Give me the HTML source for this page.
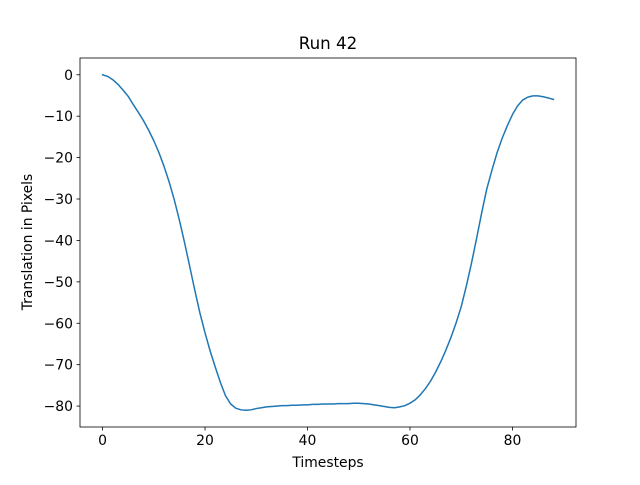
<!DOCTYPE html>
<html><head><meta charset="utf-8"><style>
body{margin:0;background:#fff;}
svg text{font-family:"DejaVu Sans","Liberation Sans",sans-serif;fill:#000;}
</style></head><body>
<svg id="chart" width="640" height="480" xmlns="http://www.w3.org/2000/svg">
<rect width="640" height="480" fill="#fff"/>
<text x="328" y="49" text-anchor="middle" font-size="16.7">Run 42</text>
<text x="328" y="467" text-anchor="middle" font-size="13.9">Timesteps</text>
<text transform="translate(32,242) rotate(-90)" text-anchor="middle" font-size="13.9">Translation in Pixels</text>
<g id="ticks"></g>
<path id="series" fill="none" stroke="#1f77b4" stroke-width="1.5" stroke-linejoin="round" stroke-linecap="square"/>
<rect x="80" y="58" width="496" height="369" fill="none" stroke="#000" stroke-width="0.8"/>
</svg>
<script>
const values = [0,-0.4,-1.2,-2.3,-3.7,-5.2,-7.2,-9.1,-11.1,-13.4,-15.9,-18.8,-22.1,-25.9,-30.2,-35.1,-40.5,-46.2,-52,-57.5,-62.3,-66.7,-70.6,-74.3,-77.5,-79.5,-80.5,-80.9,-81,-80.9,-80.6,-80.4,-80.2,-80.1,-80,-79.9,-79.9,-79.8,-79.8,-79.7,-79.7,-79.6,-79.6,-79.5,-79.5,-79.5,-79.4,-79.4,-79.4,-79.3,-79.3,-79.4,-79.5,-79.7,-79.9,-80.1,-80.3,-80.4,-80.2,-79.9,-79.3,-78.5,-77.3,-75.8,-74,-71.8,-69.3,-66.5,-63.4,-59.9,-56,-51,-45.5,-39.5,-33.3,-27.5,-23,-18.8,-15.3,-12.3,-9.6,-7.5,-6.1,-5.4,-5.1,-5.1,-5.3,-5.6,-5.95];
const xTicks = [0,20,40,60,80];
const yTicks = [0,-10,-20,-30,-40,-50,-60,-70,-80];
const X0=80,X1=576,Y0=58,Y1=427;
const n=values.length-1;
const xmin=-0.05*n, xmax=n*1.05;
const vmin=Math.min(...values), vmax=Math.max(...values), vr=vmax-vmin;
const ymin=vmin-0.05*vr, ymax=vmax+0.05*vr;
const sx=t=>X0+(t-xmin)/(xmax-xmin)*(X1-X0);
const sy=v=>Y1-(v-ymin)/(ymax-ymin)*(Y1-Y0);
const NS="http://www.w3.org/2000/svg";
const g=document.getElementById('ticks');
const fmt=v=>v<0?'\u2212'+(-v):''+v;
xTicks.forEach(t=>{
  const x=sx(t);
  const l=document.createElementNS(NS,'line');
  
  
  l.setAttribute('x1',x);l.setAttribute('x2',x);l.setAttribute('y1',Y1);l.setAttribute('y2',Y1+3.5);l.setAttribute('stroke','#000');l.setAttribute('stroke-width','0.8');
  g.appendChild(l);
  const tx=document.createElementNS(NS,'text');
  
  
  tx.setAttribute('x',x);tx.setAttribute('y',Y1+18);tx.setAttribute('text-anchor','middle');tx.setAttribute('font-size','13.9');
  tx.textContent=fmt(t);g.appendChild(tx);
});
yTicks.forEach(v=>{
  const y=sy(v);
  const l=document.createElementNS(NS,'line');
  
  
  l.setAttribute('x1',X0-3.5);l.setAttribute('x2',X0);l.setAttribute('y1',y);l.setAttribute('y2',y);l.setAttribute('stroke','#000');l.setAttribute('stroke-width','0.8');
  g.appendChild(l);
  const tx=document.createElementNS(NS,'text');
  
  
  tx.setAttribute('x',X0-7);tx.setAttribute('y',y+5);tx.setAttribute('text-anchor','end');tx.setAttribute('font-size','13.9');
  tx.textContent=fmt(v);g.appendChild(tx);
});
document.getElementById('series').setAttribute('d',values.map((v,i)=>(i?'L':'M')+sx(i).toFixed(2)+','+sy(v).toFixed(2)).join(''));
</script>
</body></html>
